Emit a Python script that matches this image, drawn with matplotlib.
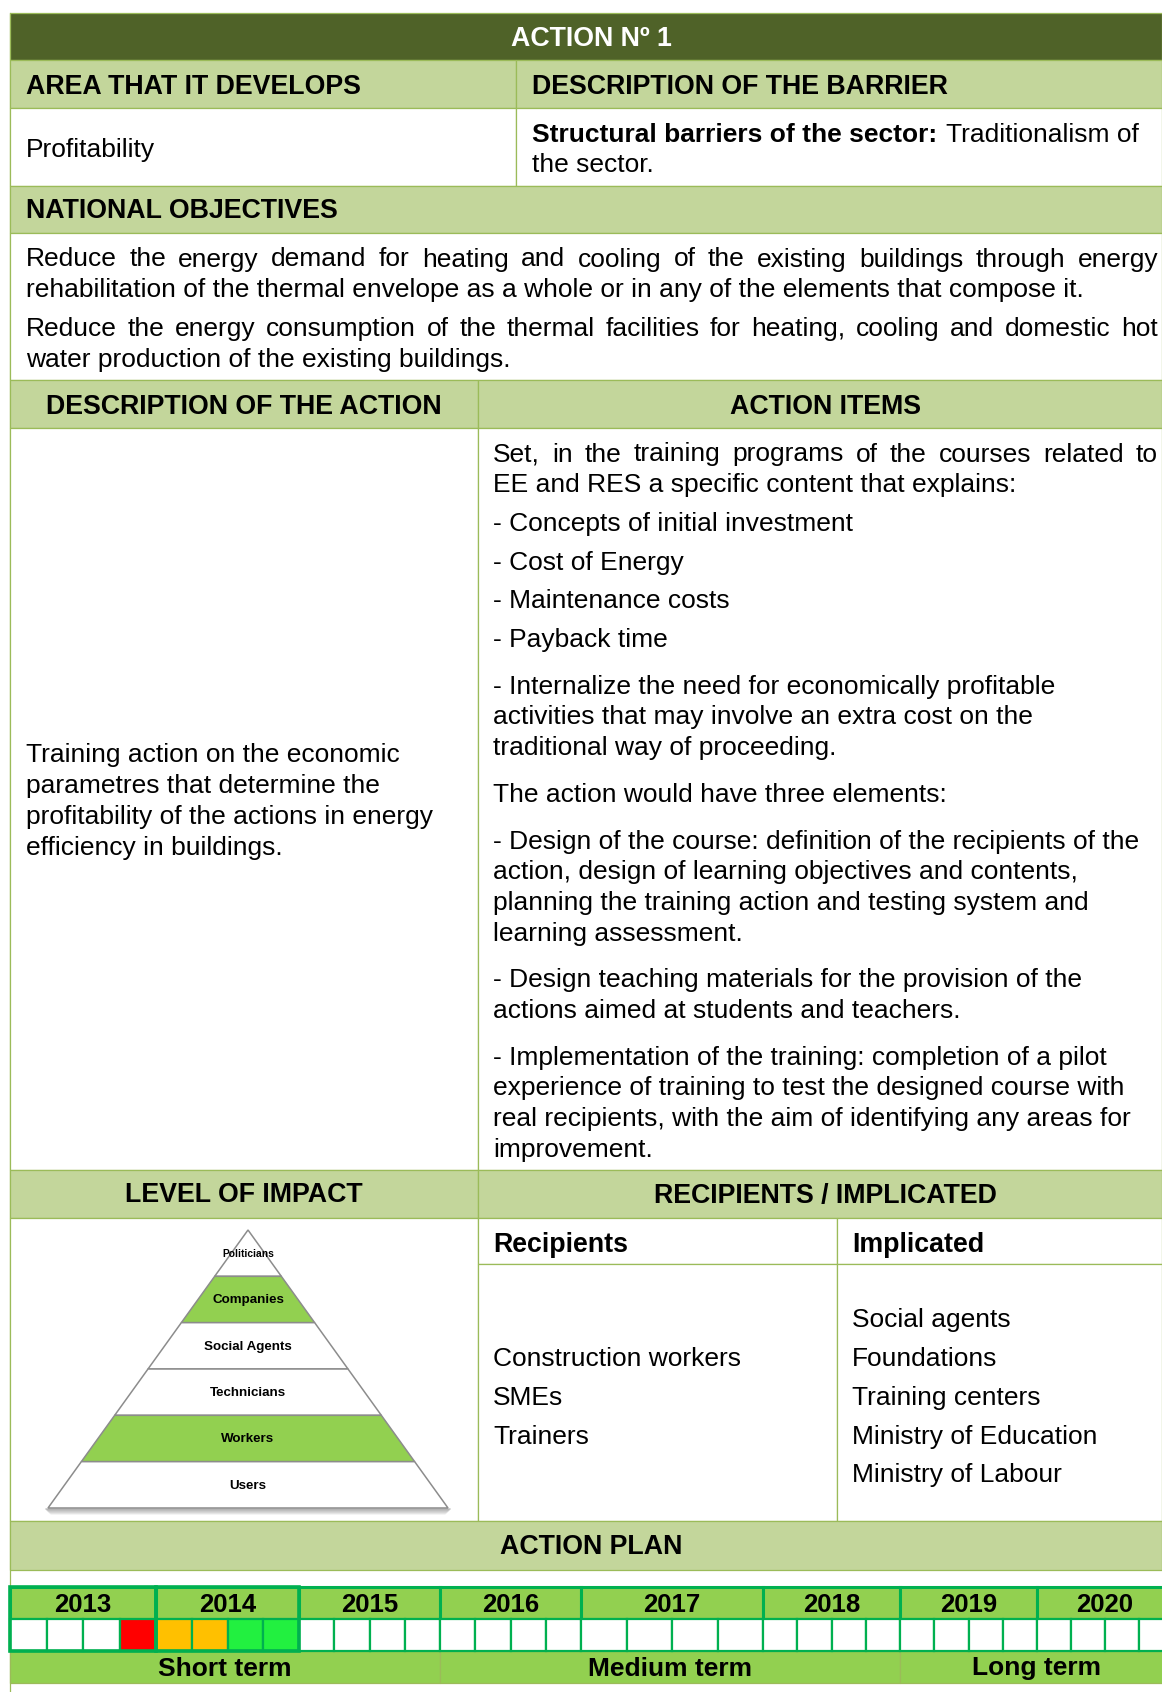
import matplotlib
matplotlib.use("Agg")
import matplotlib.pyplot as plt
from matplotlib.patches import Rectangle, Polygon

plt.rcParams['font.family'] = ['Liberation Sans', 'DejaVu Sans']

# ---- content of the action sheet ----
title = "ACTION Nº 1"
area_header = "AREA THAT IT DEVELOPS"
barrier_header = "DESCRIPTION OF THE BARRIER"
area_text = "Profitability"
barrier_bold = "Structural barriers of the sector:"
barrier_rest = ["Traditionalism of", "the sector."]

objectives_header = "NATIONAL OBJECTIVES"
objectives = [
    ["Reduce the energy demand for heating and cooling of the existing buildings through energy",
     "rehabilitation of the thermal envelope as a whole or in any of the elements that compose it."],
    ["Reduce the energy consumption of the thermal facilities for heating, cooling and domestic hot",
     "water production of the existing buildings."],
]

desc_header = "DESCRIPTION OF THE ACTION"
items_header = "ACTION ITEMS"
description = ["Training action on the economic",
               "parametres that determine the",
               "profitability of the actions in energy",
               "efficiency in buildings."]

# (lines, gap after paragraph in px)
action_items = [
    (["Set, in the training programs of the courses related to",
      "EE and RES a specific content that explains:"], 8),
    (["- Concepts of initial investment"], 8),
    (["- Cost of Energy"], 8),
    (["- Maintenance costs"], 8),
    (["- Payback time"], 16),
    (["- Internalize the need for economically profitable",
      "activities that may involve an extra cost on the",
      "traditional way of proceeding."], 16),
    (["The action would have three elements:"], 16),
    (["- Design of the course: definition of the recipients of the",
      "action, design of learning objectives and contents,",
      "planning the training action and testing system and",
      "learning assessment."], 16),
    (["- Design teaching materials for the provision of the",
      "actions aimed at students and teachers."], 16),
    (["- Implementation of the training: completion of a pilot",
      "experience of training to test the designed course with",
      "real recipients, with the aim of identifying any areas for",
      "improvement."], 0),
]

impact_header = "LEVEL OF IMPACT"
recip_header = "RECIPIENTS / IMPLICATED"
levels = ["Politicians", "Companies", "Social Agents", "Technicians", "Workers", "Users"]
level_selected = [False, True, False, False, True, False]

recipients = ["Construction workers", "SMEs", "Trainers"]
implicated = ["Social agents", "Foundations", "Training centers",
              "Ministry of Education", "Ministry of Labour"]

plan_header = "ACTION PLAN"
years = ["2013", "2014", "2015", "2016", "2017", "2018", "2019", "2020"]
# quarter status: 0 none, 1 red, 2 amber, 3 green
quarters = [0, 0, 0, 1, 2, 2, 3, 3] + [0] * 24
terms = ["Short term", "Medium term", "Long term"]
term_years = [3, 3, 2]

# ---- layout (pixels) ----
W, H = 1162, 1692
L, R = 10, 1162
MID = 591  # centre of the full-width rows (table runs past the right edge)
DARK = "#4F6228"
LIGHT = "#C3D69B"
LINE = "#9BBB59"
GREEN = "#92D050"
GRID = "#00B050"
status_colors = {0: "white", 1: "#FF0000", 2: "#FFC000", 3: "#22F040"}
year_edges = [10, 156, 299, 440, 581, 763, 900, 1037, 1173]
FS = 19
DY = 2.5  # text baseline nudge

fig = plt.figure(figsize=(W / 100, H / 100), dpi=100)
ax = fig.add_axes([0, 0, 1, 1])
ax.set_xlim(0, W)
ax.set_ylim(H, 0)
ax.axis("off")
renderer = fig.canvas.get_renderer()


def box(x0, y0, x1, y1, fc, ec=LINE, lw=0.9, z=1):
    ax.add_patch(Rectangle((x0, y0), x1 - x0, y1 - y0, facecolor=fc,
                           edgecolor=ec, linewidth=lw, zorder=z))


def width_of(s, **kw):
    t = ax.text(0, 0, s, **kw)
    w = t.get_window_extent(renderer).width
    t.remove()
    return w


def justify(line, x0, x1, y, **kw):
    words = line.split()
    widths = [width_of(w, fontsize=FS, **kw) for w in words]
    gap = (x1 - x0 - sum(widths)) / (len(words) - 1)
    x = x0
    for w, wd in zip(words, widths):
        ax.text(x, y + DY, w, ha="left", va="center", fontsize=FS, **kw)
        x += wd + gap


def txt(x, y, s, ha="left", bold=False, color="black", fs=FS):
    ax.text(x, y + DY, s, ha=ha, va="center", fontsize=fs, color=color,
            fontweight="bold" if bold else "normal")


# title row
box(L, 13, R, 60, DARK)
txt(MID, 37, title, ha="center", bold=True, color="white", fs=19.3)

# area / barrier
box(L, 60, 516, 108, LIGHT)
box(516, 60, R, 108, LIGHT)
box(L, 108, 516, 186, "white")
box(516, 108, R, 186, "white")
txt(26, 84, area_header, bold=True, fs=19.3)
txt(532, 84, barrier_header, bold=True, fs=19.3)
txt(26, 148, area_text)
txt(532, 132, barrier_bold, bold=True)
bw = width_of(barrier_bold + " ", fontsize=FS, fontweight="bold")
txt(532 + bw + 2, 132, barrier_rest[0])
txt(532, 163, barrier_rest[1])

# objectives
box(L, 186, R, 233, LIGHT)
txt(26, 209, objectives_header, bold=True, fs=19.3)
box(L, 233, R, 380, "white")
y = 257
for para in objectives:
    for i, line in enumerate(para):
        if i < len(para) - 1:
            justify(line, 26, 1158, y)
        else:
            txt(26, y, line)
        y += 30.7
    y += 8

# description / action items
box(L, 380, 478, 428, LIGHT)
box(478, 380, R, 428, LIGHT)
txt(244, 405, desc_header, ha="center", bold=True, fs=19.3)
txt(825, 405, items_header, ha="center", bold=True, fs=19.3)
box(L, 428, 478, 1170, "white")
box(478, 428, R, 1170, "white")
y0 = 799 - 30.7 * (len(description) - 1) / 2
for i, line in enumerate(description):
    txt(26, y0 + i * 30.7, line)
y = 452
for k, (lines, gap) in enumerate(action_items):
    for i, line in enumerate(lines):
        if k == 0 and i == 0:
            justify(line, 493, 1158, y)
        else:
            txt(493, y, line)
        y += 30.7
    y += gap

# level of impact / recipients
box(L, 1170, 478, 1218, LIGHT)
box(478, 1170, R, 1218, LIGHT)
txt(244, 1193, impact_header, ha="center", bold=True, fs=19.3)
txt(825, 1193, recip_header, ha="center", bold=True, fs=19.3)
box(L, 1218, 478, 1521, "white")
box(478, 1218, 837, 1264, "white")
box(837, 1218, R, 1264, "white")
box(478, 1264, 837, 1521, "white")
box(837, 1264, R, 1521, "white")
txt(493, 1242, "Recipients", bold=True, fs=19.3)
txt(852, 1242, "Implicated", bold=True, fs=19.3)
for i, s in enumerate(recipients):
    txt(493, 1357 + i * 38.7, s)
for i, s in enumerate(implicated):
    txt(852, 1318 + i * 38.7, s)

# pyramid
cx, top, base, half = 248, 1230, 1508, 200
for k in range(6):
    ax.plot([cx - half - 2 + k, cx + half + 2 - k], [base + 1.5 + k] * 2,
            color="gray", alpha=0.45 - k * 0.07, lw=1.2, zorder=2,
            solid_capstyle="round")
n = len(levels)
h = (base - top) / n
for i, (name, sel) in enumerate(zip(levels, level_selected)):
    yt, yb = top + i * h, top + (i + 1) * h
    wt, wb = half * (yt - top) / (base - top), half * (yb - top) / (base - top)
    ax.add_patch(Polygon([(cx - wt, yt), (cx + wt, yt), (cx + wb, yb), (cx - wb, yb)],
                         closed=True, facecolor=GREEN if sel else "white",
                         edgecolor="#8C8C8C", linewidth=1.1, zorder=3))
    ax.text(cx, (yt + yb) / 2 + 1, name, ha="center", va="center",
            fontsize=7.4 if i == 0 else 9.6, fontweight="bold", zorder=4)

# action plan
box(L, 1521, R, 1570, LIGHT)
txt(MID, 1545, plan_header, ha="center", bold=True, fs=19.3)
ax.plot([L, L], [13, H], color=LINE, lw=0.9, zorder=0)

yr0, yr1, q1, t1 = 1587, 1619, 1651, 1683
for i, yr in enumerate(years):
    xa, xb = year_edges[i], year_edges[i + 1]
    box(xa, yr0, xb, yr1, GREEN, ec=GRID, lw=2.2, z=2)
    txt((xa + xb) / 2, (yr0 + yr1) / 2 - 1, yr, ha="center", bold=True, fs=18.5)
    qw = (xb - xa) / 4
    for j in range(4):
        st = quarters[i * 4 + j]
        box(xa + j * qw, yr1, xa + (j + 1) * qw, q1, status_colors[st],
            ec=GRID, lw=1.6, z=2)
for i in range(2):
    box(year_edges[i], yr0, year_edges[i + 1], q1, "none", ec=GRID, lw=2.6, z=3)

k = 0
for name, n_y in zip(terms, term_years):
    xa, xb = year_edges[k], min(year_edges[k + n_y], R + 20)
    box(xa, q1, xb, t1, GREEN, ec=LINE, lw=0.9, z=1)
    mid = (xa + xb) / 2 if k + n_y < len(years) else (xa + 1172) / 2
    txt(mid, (q1 + t1) / 2 - 1, name, ha="center", bold=True)
    k += n_y

fig.savefig("out.png", dpi=100)
